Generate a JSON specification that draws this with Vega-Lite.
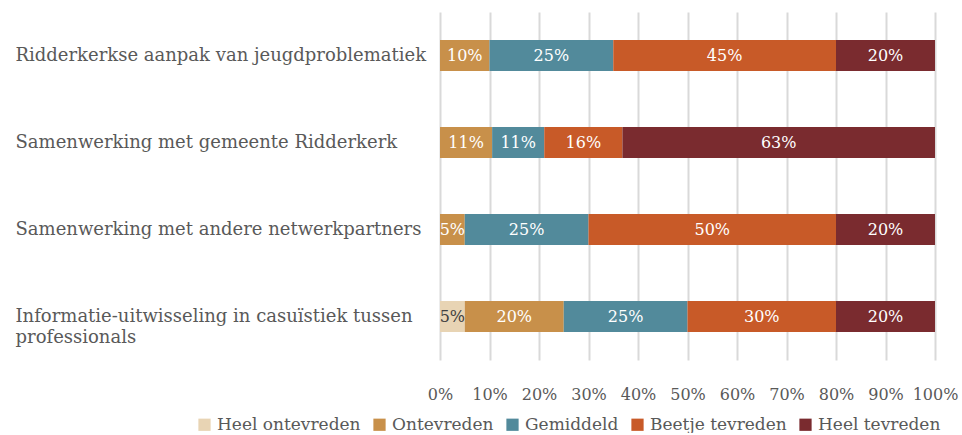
{
  "$schema": "https://vega.github.io/schema/vega-lite/v6.json",
  "width": 495,
  "height": 348,
  "padding": {"left": 15, "top": 12, "right": 27, "bottom": 0},
  "background": "white",
  "config": {
    "font": "DejaVu Serif",
    "view": {"stroke": null},
    "axisX": {
      "title": null,
      "format": ".0%",
      "values": [0, 0.1, 0.2, 0.3, 0.4, 0.5, 0.6, 0.7, 0.8, 0.9, 1],
      "domain": false,
      "ticks": false,
      "grid": true,
      "gridColor": "#d9d9d9",
      "gridWidth": 2,
      "labelFontSize": 16,
      "labelColor": "#595959",
      "labelPadding": 26,
      "labelFlush": false,
      "labelOverlap": false
    }
  },
  "data": {
    "values": [
      {"cat": "Ridderkerkse aanpak van jeugdproblematiek", "level": "Ontevreden", "value": 0.10},
      {"cat": "Ridderkerkse aanpak van jeugdproblematiek", "level": "Gemiddeld", "value": 0.25},
      {"cat": "Ridderkerkse aanpak van jeugdproblematiek", "level": "Beetje tevreden", "value": 0.45},
      {"cat": "Ridderkerkse aanpak van jeugdproblematiek", "level": "Heel tevreden", "value": 0.20},
      {"cat": "Samenwerking met gemeente Ridderkerk", "level": "Ontevreden", "value": 0.1053},
      {"cat": "Samenwerking met gemeente Ridderkerk", "level": "Gemiddeld", "value": 0.1053},
      {"cat": "Samenwerking met gemeente Ridderkerk", "level": "Beetje tevreden", "value": 0.1579},
      {"cat": "Samenwerking met gemeente Ridderkerk", "level": "Heel tevreden", "value": 0.6315},
      {"cat": "Samenwerking met andere netwerkpartners", "level": "Ontevreden", "value": 0.05},
      {"cat": "Samenwerking met andere netwerkpartners", "level": "Gemiddeld", "value": 0.25},
      {"cat": "Samenwerking met andere netwerkpartners", "level": "Beetje tevreden", "value": 0.50},
      {"cat": "Samenwerking met andere netwerkpartners", "level": "Heel tevreden", "value": 0.20},
      {"cat": "Informatie-uitwisseling in casuïstiek tussen professionals", "level": "Heel ontevreden", "value": 0.05},
      {"cat": "Informatie-uitwisseling in casuïstiek tussen professionals", "level": "Ontevreden", "value": 0.20},
      {"cat": "Informatie-uitwisseling in casuïstiek tussen professionals", "level": "Gemiddeld", "value": 0.25},
      {"cat": "Informatie-uitwisseling in casuïstiek tussen professionals", "level": "Beetje tevreden", "value": 0.30},
      {"cat": "Informatie-uitwisseling in casuïstiek tussen professionals", "level": "Heel tevreden", "value": 0.20}
    ]
  },
  "transform": [
    {"calculate": "indexof(['Heel ontevreden','Ontevreden','Gemiddeld','Beetje tevreden','Heel tevreden'], datum.level)", "as": "ord"},
    {"stack": "value", "groupby": ["cat"], "sort": [{"field": "ord", "order": "ascending"}], "as": ["v0", "v1"]},
    {"calculate": "(datum.v0 + datum.v1) / 2", "as": "mid"}
  ],
  "encoding": {
    "y": {
      "field": "cat",
      "type": "nominal",
      "sort": null,
      "scale": {"paddingInner": 0.644, "paddingOuter": 0.322},
      "axis": {
        "title": null,
        "ticks": false,
        "domain": false,
        "labelAlign": "left",
        "labelPadding": 425,
        "labelFontSize": 18,
        "labelColor": "#595959",
        "labelLimit": 430,
        "labelLineHeight": 21,
        "labelExpr": "datum.label == 'Informatie-uitwisseling in casuïstiek tussen professionals' ? ['Informatie-uitwisseling in casuïstiek tussen', 'professionals'] : datum.label"
      }
    }
  },
  "layer": [
    {
      "mark": {"type": "bar"},
      "encoding": {
        "x": {
          "field": "v0",
          "type": "quantitative",
          "scale": {"domain": [0, 1], "nice": false},
          "axis": {"title": null}
        },
        "x2": {"field": "v1"},
        "color": {
          "field": "level",
          "type": "nominal",
          "scale": {
            "domain": ["Heel ontevreden", "Ontevreden", "Gemiddeld", "Beetje tevreden", "Heel tevreden"],
            "range": ["#E8D4B4", "#C8904A", "#528A9B", "#C85A28", "#7A2B2F"]
          },
          "legend": {
            "title": null,
            "orient": "none",
            "direction": "horizontal",
            "legendX": -244,
            "legendY": 404,
            "symbolType": "square",
            "symbolSize": 150,
            "symbolStrokeWidth": 0,
            "symbolOpacity": 1,
            "labelFontSize": 17,
            "labelColor": "#595959",
            "labelOffset": 4,
            "columnPadding": 10,
            "labelLimit": 300
          }
        }
      }
    },
    {
      "mark": {"type": "text", "fontSize": 16, "baseline": "middle", "align": "center"},
      "encoding": {
        "x": {"field": "mid", "type": "quantitative", "axis": {"title": null}},
        "text": {"field": "value", "type": "quantitative", "format": ".0%"},
        "color": {
          "condition": {"test": "datum.level == 'Heel ontevreden'", "value": "#404040"},
          "value": "white"
        }
      }
    }
  ]
}
